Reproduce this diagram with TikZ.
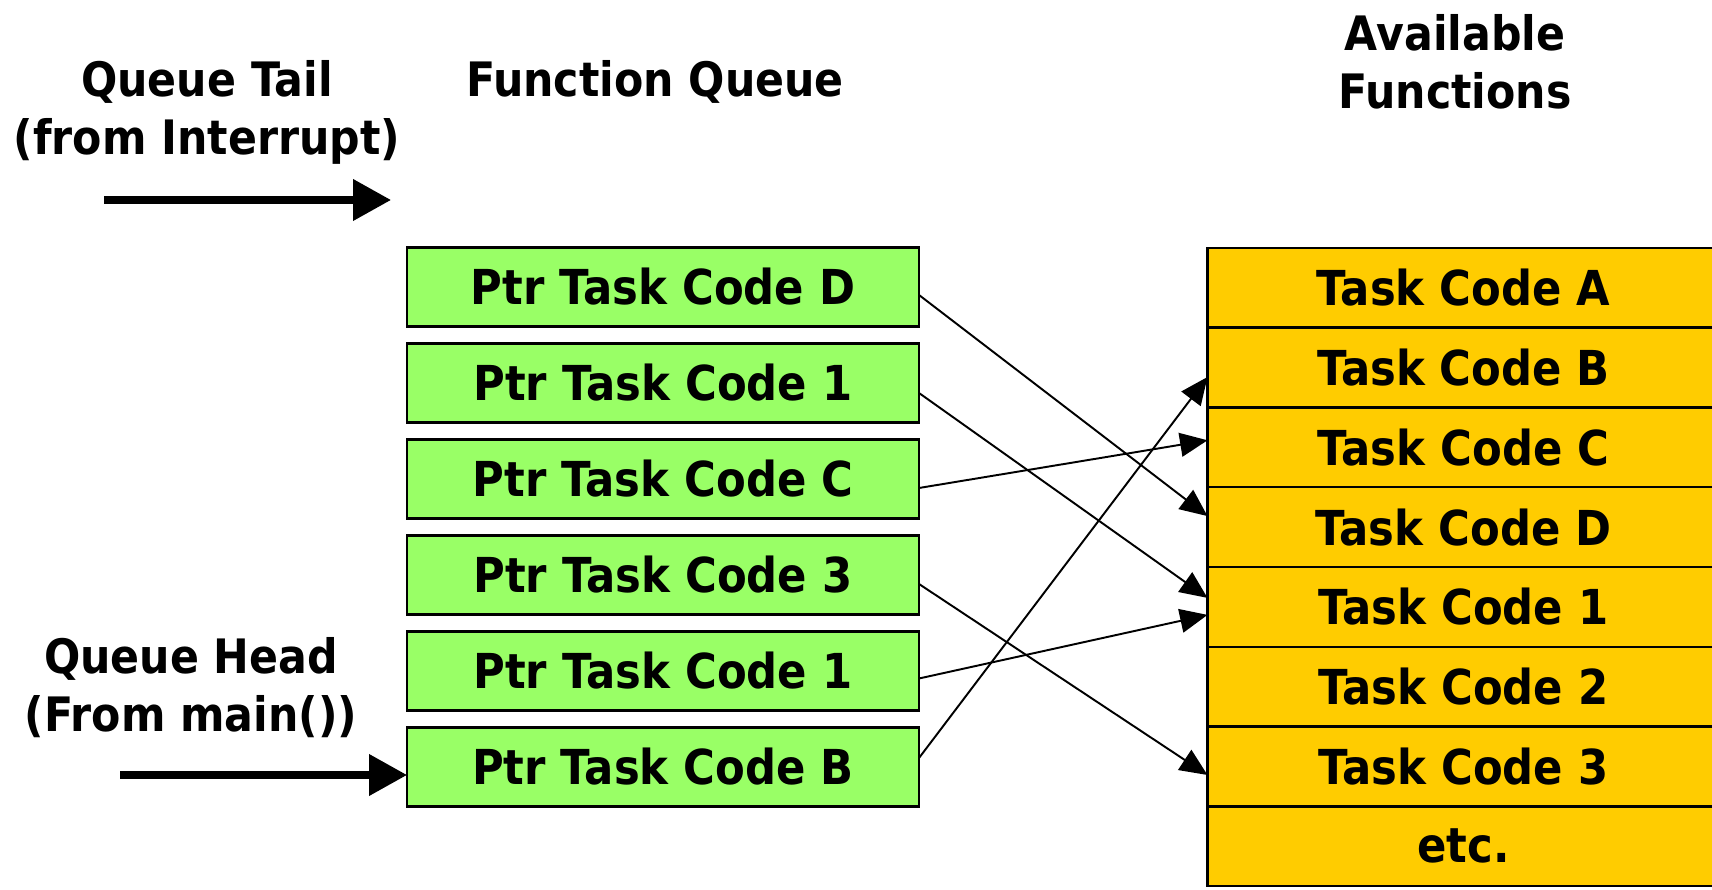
\documentclass[tikz,border=0pt]{standalone}
\usepackage{fontspec}
\setmainfont{DejaVu Sans}[FakeStretch=0.9]
\usetikzlibrary{arrows.meta,positioning}

\definecolor{qgreen}{RGB}{153,255,102}
\definecolor{fyellow}{RGB}{255,204,0}

\tikzset{
  lbl/.style={align=center,font=\fontsize{13.5}{16.5}\selectfont\bfseries,inner sep=0pt},
  qbox/.style={draw,line width=0.65pt,fill=qgreen,minimum width=5.12cm,minimum height=0.79cm,
    inner sep=0pt,outer sep=0pt,font=\fontsize{13.7}{16}\selectfont\bfseries},
  fbox/.style={draw,line width=0.65pt,fill=fyellow,minimum width=5.12cm,minimum height=0.798cm,
    inner sep=0pt,outer sep=0pt,font=\fontsize{13.7}{16}\selectfont\bfseries},
  ptr/.style={line width=0.55pt,-{Triangle[length=7.8pt,width=6.8pt]}},
  bigarrow/.style={line width=2pt,-{Triangle[length=10.8pt,width=11.4pt]}}
}

\begin{document}
\begin{tikzpicture}
\useasboundingbox (0,0) rectangle (17.12,-8.90);

% headings
\node[lbl] (tail) at (2.07,-1.12) {Queue Tail\\(from Interrupt)};
\node[lbl] (fq) at (6.55,-0.82) {Function Queue};
\node[lbl] (avail) at (14.55,-0.62) {Available\\Functions};
\node[lbl] (head) at (1.91,-6.88) {Queue Head\\(From main())};

% function queue
\node[qbox] (qD) at (6.63,-2.87) {Ptr Task Code D};
\node[qbox,below=0.17cm of qD] (q1) {Ptr Task Code 1};
\node[qbox,below=0.17cm of q1] (qC) {Ptr Task Code C};
\node[qbox,below=0.17cm of qC] (q3) {Ptr Task Code 3};
\node[qbox,below=0.17cm of q3] (q1b) {Ptr Task Code 1};
\node[qbox,below=0.17cm of q1b] (qB) {Ptr Task Code B};

% available functions
\node[fbox] (tA) at (14.635,-2.877) {Task Code A};
\node[fbox,below=0pt of tA] (tB) {Task Code B};
\node[fbox,below=0pt of tB] (tC) {Task Code C};
\node[fbox,below=0pt of tC] (tD) {Task Code D};
\node[fbox,below=0pt of tD] (t1) {Task Code 1};
\node[fbox,below=0pt of t1] (t2) {Task Code 2};
\node[fbox,below=0pt of t2] (t3) {Task Code 3};
\node[fbox,below=0pt of t3] (tetc) {etc.};

% pointers
\draw[ptr] ([yshift=-0.08cm]qD.east) -- ([yshift=0.11cm]tD.west);
\draw[ptr] ([yshift=-0.10cm]q1.east) -- ([yshift=0.09cm]t1.west);
\draw[ptr] ([yshift=-0.09cm]qC.east) -- ([yshift=0.07cm]tC.west);
\draw[ptr] ([yshift=-0.09cm]q3.east) -- ([yshift=-0.085cm]t3.west);
\draw[ptr] ([yshift=-0.075cm]q1b.east) -- ([yshift=-0.08cm]t1.west);
\draw[ptr] ([yshift=0.09cm]qB.east) -- ([yshift=-0.095cm]tB.west);

% tail and head
\coordinate (tailS) at (1.04,-2.00);
\coordinate (tailE) at (3.91,-2.00);
\draw[bigarrow] (tailS) -- (tailE);
\coordinate (headS) at (1.20,-7.75);
\draw[bigarrow] (headS) -- (headS -| qB.west);
\end{tikzpicture}
\end{document}
